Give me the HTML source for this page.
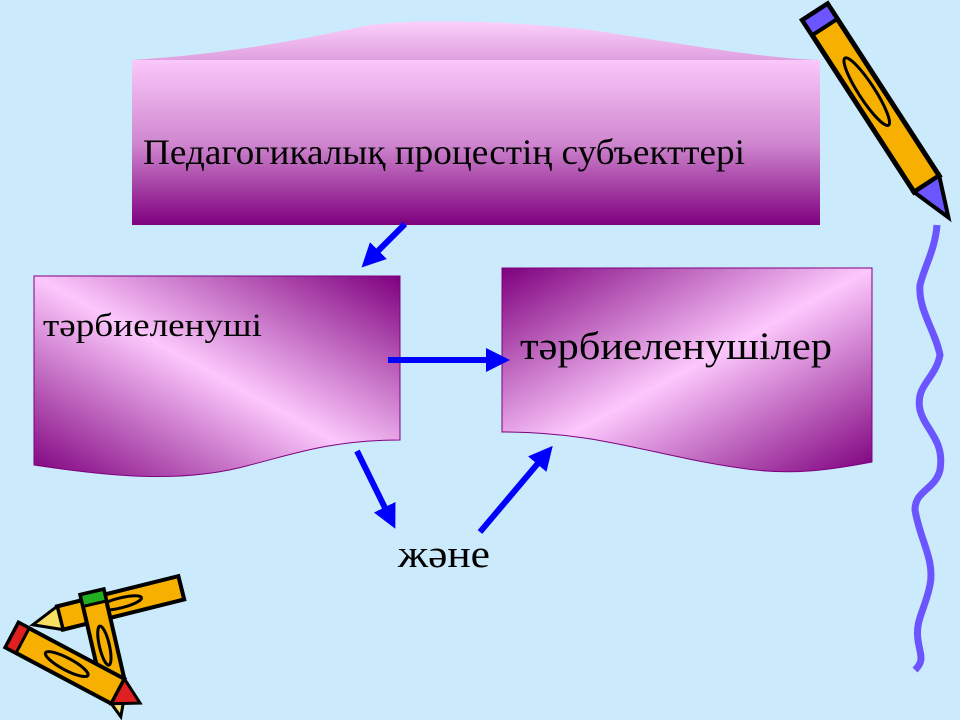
<!DOCTYPE html>
<html><head><meta charset="utf-8"><style>
html,body{margin:0;padding:0;background:#cbeafb;}
svg{display:block;}
text{font-family:"Liberation Serif",serif;fill:#000;}
</style></head><body>
<svg width="960" height="720" viewBox="0 0 960 720" xmlns="http://www.w3.org/2000/svg">
<defs>
<linearGradient id="gTop" x1="0" y1="0" x2="0" y2="1">
<stop offset="0" stop-color="#fac8fa"/><stop offset="0.5" stop-color="#d088d0"/><stop offset="1" stop-color="#7e007e"/>
</linearGradient>
<linearGradient id="gWave" x1="0" y1="0" x2="0" y2="1">
<stop offset="0" stop-color="#fcd0fc"/><stop offset="1" stop-color="#e0a0e0"/>
</linearGradient>
<linearGradient id="gL" x1="1" y1="0" x2="0" y2="1">
<stop offset="0" stop-color="#7e007e"/><stop offset="0.5" stop-color="#fcc8fc"/><stop offset="1" stop-color="#7e007e"/>
</linearGradient>
<linearGradient id="gR" x1="0" y1="0" x2="1" y2="1">
<stop offset="0" stop-color="#7e007e"/><stop offset="0.5" stop-color="#fcc8fc"/><stop offset="1" stop-color="#7e007e"/>
</linearGradient>
<marker id="ah" markerWidth="4" markerHeight="4" refX="2" refY="2" orient="auto" markerUnits="strokeWidth">
<path d="M0,0 L4,2 L0,4 Z" fill="#0000ff"/>
</marker>
</defs>

<path d="M132,60 C220,55 300,40 370,25 C430,18 520,22 590,30 C690,45 760,58 820,60 Z" fill="url(#gWave)"/>
<rect x="132" y="60" width="688" height="165" fill="url(#gTop)"/>
<text x="143" y="164" font-size="36" textLength="602" lengthAdjust="spacingAndGlyphs">Педагогикалық процестің субъекттері</text>

<path d="M34,276 L400,276 L400,440 C330,440 290,455 250,465 C180,485 100,475 34,465 Z" fill="url(#gL)" stroke="#800080" stroke-width="1"/>
<text x="43" y="336" font-size="33" textLength="219" lengthAdjust="spacingAndGlyphs">тәрбиеленуші</text>

<path d="M502,268 L872,268 L872,462 C830,470 790,476 740,468 C650,455 600,432 502,432 Z" fill="url(#gR)" stroke="#800080" stroke-width="1"/>
<text x="520" y="359" font-size="39" textLength="312" lengthAdjust="spacingAndGlyphs">тәрбиеленушілер</text>

<text x="398" y="567" font-size="39" textLength="92" lengthAdjust="spacingAndGlyphs">және</text>

<g stroke="#0000ff" stroke-width="6" fill="none">
<line x1="405" y1="224" x2="370" y2="259" marker-end="url(#ah)"/>
<line x1="388" y1="360" x2="498" y2="360" marker-end="url(#ah)"/>
<line x1="357" y1="451" x2="390" y2="518" marker-end="url(#ah)"/>
<line x1="480" y1="532" x2="545" y2="455" marker-end="url(#ah)"/>
</g>

<path d="M937,225 C935,250 925,265 920,285 C918,310 935,330 940,355 C935,380 915,385 920,410 C925,430 945,440 940,470 C935,490 915,490 915,510 C920,540 935,560 930,585 C925,610 915,620 918,640 C920,655 925,660 915,670" stroke="#6b55ff" stroke-width="7" fill="none"/>

<g transform="translate(815,12) rotate(57)">
<rect x="0" y="-15" width="205" height="30" fill="#f8b000" stroke="#000" stroke-width="5"/>
<rect x="0" y="-15" width="18" height="30" fill="#6b55ff" stroke="#000" stroke-width="4"/>
<ellipse cx="95" cy="0" rx="40" ry="8" fill="none" stroke="#000" stroke-width="3"/>
<path d="M205,-15 L245,0 L205,15 Z" fill="#6b55ff" stroke="#000" stroke-width="4"/>
</g>

<g transform="translate(60,618) rotate(-14)">
<rect x="0" y="-12" width="125" height="24" fill="#f8b000" stroke="#000" stroke-width="4"/>
<path d="M0,-12 L-28,0 L0,12 Z" fill="#f8e060" stroke="#000" stroke-width="3"/>
<ellipse cx="62" cy="0" rx="22" ry="5" fill="none" stroke="#000" stroke-width="3"/>
</g>
<g transform="translate(92,592) rotate(77)">
<rect x="0" y="-12" width="100" height="24" fill="#f8b000" stroke="#000" stroke-width="4"/>
<rect x="0" y="-12" width="12" height="24" fill="#20b020" stroke="#000" stroke-width="3"/>
<path d="M100,-12 L128,0 L100,12 Z" fill="#f8e060" stroke="#000" stroke-width="3"/>
<ellipse cx="55" cy="0" rx="20" ry="5" fill="none" stroke="#000" stroke-width="3"/>
</g>
<g transform="translate(12,635) rotate(28)">
<rect x="0" y="-14" width="120" height="28" fill="#f8b000" stroke="#000" stroke-width="4"/>
<rect x="0" y="-14" width="12" height="28" fill="#e02020" stroke="#000" stroke-width="3"/>
<path d="M120,-14 L145,0 L120,14 Z" fill="#e02020" stroke="#000" stroke-width="3"/>
<ellipse cx="62" cy="0" rx="24" ry="6" fill="none" stroke="#000" stroke-width="3"/>
</g>
</svg>
</body></html>
